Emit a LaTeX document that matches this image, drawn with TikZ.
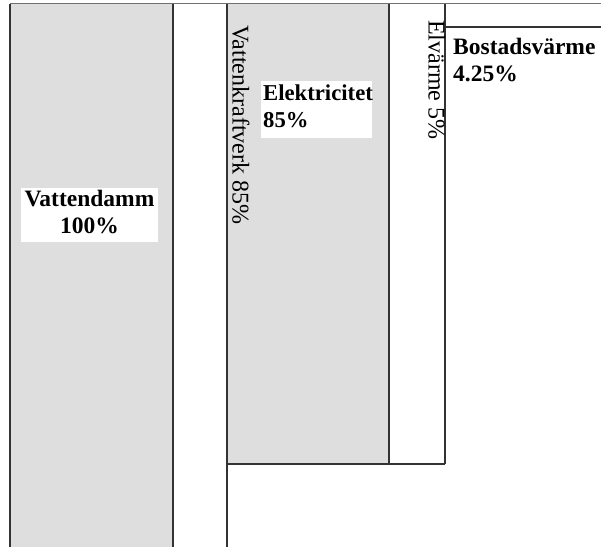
\documentclass[tikz,border=0pt]{standalone}
\usepackage{fontspec}
\setmainfont{Liberation Serif}
\definecolor{boxgray}{HTML}{DEDEDE}
\definecolor{edgegray}{HTML}{333333}
\definecolor{topgray}{HTML}{707070}
\begin{document}
\begin{tikzpicture}[x=1pt,y=-1pt,
  edge/.style={draw=edgegray,line width=1.1pt},
  topedge/.style={draw=topgray,line width=1.6pt},
  flowlabel/.style={inner sep=0pt,
    font=\bfseries\fontsize{23.5}{27}\selectfont},
  sidelabel/.style={rotate=-90,anchor=base west,inner sep=0pt,
    font=\fontsize{24}{27}\selectfont}]
\useasboundingbox (0,0) rectangle (601,546);
\clip (0,0) rectangle (601,546);

% filled stages
\fill[boxgray] (10,3.5) rectangle (173,560);
\fill[boxgray] (227,3.5) rectangle (389,464);

% stage borders
\draw[edge] (10,3.5) -- (10,560);
\draw[edge] (173,3.5) -- (173,560);
\draw[edge] (227,3.5) -- (227,560);
\draw[edge] (389,3.5) -- (389,464);
\draw[edge] (445,3.5) -- (445,464);
\draw[edge] (227,464) -- (445,464);
\draw[edge] (445,27) -- (601,27);
\draw[topedge] (10,3.5) -- (601,3.5);

% white label backgrounds
\fill[white] (21,187.7) rectangle (157.7,241.7);
\fill[white] (261,80.5) rectangle (372,137.5);

% labels (anchored on the baseline of the last line)
\node[flowlabel,align=center,anchor=base] (dam) at (89.5,233.3) {Vattendamm\\100\%};
\node[flowlabel,align=left,anchor=base west,
  font=\bfseries\fontsize{22.7}{27}\selectfont] (el) at (263,127) {Elektricitet\\85\%};
\node[flowlabel,align=left,anchor=base west] (bost) at (453,81.5) {Bostadsvärme\\4.25\%};
\node[sidelabel] (plant) at (232.5,25) {Vattenkraftverk 85\%};
\node[sidelabel] (heat) at (428.5,20) {Elvärme 5\%};
\end{tikzpicture}
\end{document}
